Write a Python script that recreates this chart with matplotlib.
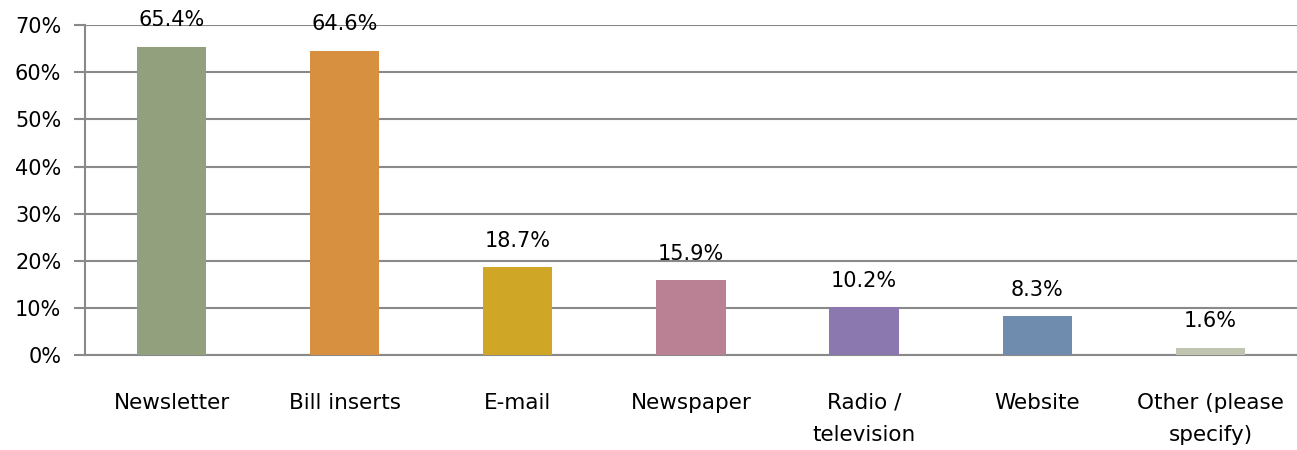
import matplotlib
matplotlib.use("Agg")
import numpy as np
from matplotlib import pyplot as plt
from matplotlib.ticker import FuncFormatter

categories = ["Newsletter", "Bill inserts", "E-mail", "Newspaper",
              "Radio /\ntelevision", "Website", "Other (please\nspecify)"]
values = [65.4, 64.6, 18.7, 15.9, 10.2, 8.3, 1.6]
colors = ["#93A07E", "#D79040", "#CFA626", "#B98193",
          "#8B78AE", "#6F8BAD", "#BFC5B0"]

plt.rcParams['font.family'] = ['DejaVu Sans']

fig = plt.figure(figsize=(12.97, 4.5), dpi=100)
ax = fig.add_axes([0.0655, 0.211, 0.9345, 0.733])

x = np.arange(len(categories))
ax.bar(x, values, width=0.40, color=colors, zorder=3)

for xi, v in zip(x, values):
    ax.text(xi, v + 5.6, "%.1f%%" % v, ha="center", va="center", fontsize=15)

ax.set_xlim(-0.5, len(categories) - 0.5)
ax.set_ylim(0, 70)
ax.set_yticks(np.arange(0, 71, 10))
ax.yaxis.set_major_formatter(FuncFormatter(lambda v, p: "%d%%" % v))
ax.set_xticks(x)
ax.set_xticklabels(categories, fontsize=15.5, linespacing=1.75)
ax.tick_params(axis="x", length=0, pad=27)
ax.tick_params(axis="y", length=8, width=1.5, color="#898989", labelsize=15, pad=9)

ax.grid(axis="y", color="#898989", linewidth=1.5, zorder=0)
for s in ["top", "right"]:
    ax.spines[s].set_visible(False)
ax.spines["left"].set_color("#898989")
ax.spines["left"].set_linewidth(1.5)
ax.spines["bottom"].set_color("#898989")
ax.spines["bottom"].set_linewidth(1.5)

fig.savefig("out.png", dpi=100)
